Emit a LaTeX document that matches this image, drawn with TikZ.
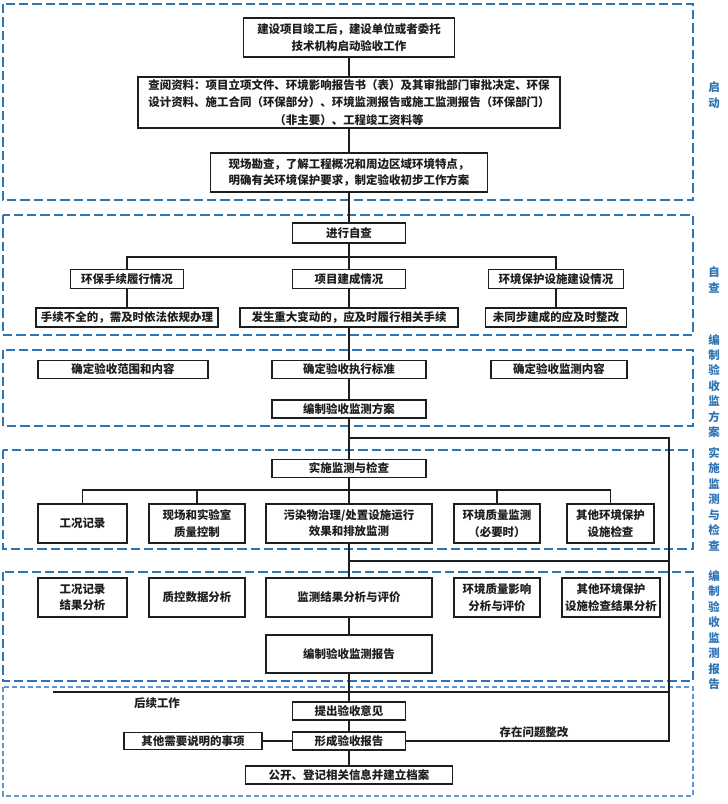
\documentclass[tikz,border=0pt]{standalone}
\usepackage{fontspec}
\setmainfont{Noto Sans CJK SC}
\usepackage{tikz}
\usetikzlibrary{calc}
\definecolor{stageBlue}{RGB}{46,117,182}
\definecolor{stageBlueLight}{RGB}{96,150,205}
\definecolor{inkBlack}{RGB}{30,30,30}
\tikzset{
  flow box/.style={draw=inkBlack,line width=0.9pt,fill=white,align=center,text=inkBlack,inner sep=0pt,
    font=\fontsize{8.6}{12.2}\selectfont\bfseries},
  box size/.style n args={2}{minimum width=#1*0.75pt,minimum height=#2*0.75pt},
  flow line/.style={draw=inkBlack,line width=0.9pt},
  stage frame/.style={draw=stageBlue,line width=1.1pt,dash pattern=on 7pt off 3pt},
  stage frame light/.style={draw=stageBlueLight,line width=0.9pt,dash pattern=on 4pt off 2pt},
  stage label/.style={text=stageBlue,align=center,inner sep=0pt,font=\fontsize{8.6}{11.6}\selectfont\bfseries},
  side text/.style={text=inkBlack,inner sep=0pt,font=\fontsize{8.6}{12}\selectfont\bfseries}
}
\begin{document}
\begin{tikzpicture}[x=0.75pt,y=-0.75pt]
  \useasboundingbox[fill=white] (0,0) rectangle (728,804);
  % stage frames
  \draw[stage frame] (3,4) rectangle (693,200);
  \draw[stage frame] (3,215) rectangle (693,335);
  \draw[stage frame] (3,350) rectangle (693,426);
  \draw[stage frame] (3,450) rectangle (693,549);
  \draw[stage frame] (3,572) rectangle (693,681);
  \draw[stage frame light] (3,687) rectangle (693,796);
  \node[stage label] (lblstart) at (714,95) {启\\动};
  \node[stage label] (lblself) at (714,280) {自\\查};
  \node[stage label] (lblplan) at (714,386) {编\\制\\验\\收\\监\\方\\案};
  \node[stage label] (lblexec) at (714,499) {实\\施\\监\\测\\与\\检\\查};
  \node[stage label] (lblreport) at (714,630) {编\\制\\验\\收\\监\\测\\报\\告};

  % start
  \node[flow box,box size={211}{39}] (start) at (349,37.5) {建设项目竣工后，建设单位或者委托\\技术机构启动验收工作};
  \node[flow box,box size={422}{51},font=\fontsize{8.6}{13}\selectfont\bfseries] (docs) at (349,102.5) {查阅资料：项目立项文件、环境影响报告书（表）及其审批部门审批决定、环保\\设计资料、施工合同（环保部分）、环境监测报告或施工监测报告（环保部门）\\（非主要）、工程竣工资料等};
  \node[flow box,box size={277}{39}] (survey) at (349,172.5) {现场勘查，了解工程概况和周边区域环境特点，\\明确有关环境保护要求，制定验收初步工作方案};

  % self check
  \node[flow box,box size={113}{20}] (selfchk) at (349,233) {进行自查};
  \node[flow box,box size={113}{19}] (proc) at (127,279) {环保手续履行情况};
  \node[flow box,box size={113}{19}] (build) at (349,279) {项目建成情况};
  \node[flow box,box size={135}{19}] (facil) at (556,279) {环境保护设施建设情况};
  \node[flow box,box size={182}{19}] (procfix) at (127,317.5) {手续不全的，需及时依法依规办理};
  \node[flow box,box size={218}{19}] (buildfix) at (349,317.5) {发生重大变动的，应及时履行相关手续};
  \node[flow box,box size={141}{19}] (facilfix) at (556,317.5) {未同步建成的应及时整改};

  % monitoring plan
  \node[flow box,box size={170}{18}] (scope) at (123,369.5) {确定验收范围和内容};
  \node[flow box,box size={154}{18}] (std) at (349,369.5) {确定验收执行标准};
  \node[flow box,box size={136}{18}] (content) at (559,369.5) {确定验收监测内容};
  \node[flow box,box size={154}{18}] (plan) at (349,409) {编制验收监测方案};

  % monitoring and inspection
  \node[flow box,box size={154}{18}] (exec) at (349,468.5) {实施监测与检查};
  \node[flow box,box size={89}{39}] (rec) at (82.5,523.5) {工况记录};
  \node[flow box,box size={96}{39}] (qc) at (197,523.5) {现场和实验室\\质量控制};
  \node[flow box,box size={166}{39}] (pollut) at (349,523.5) {污染物治理/处置设施运行\\效果和排放监测};
  \node[flow box,box size={86}{39}] (envq) at (497,523.5) {环境质量监测\\（必要时）};
  \node[flow box,box size={87}{39}] (other) at (610.5,523.5) {其他环境保护\\设施检查};

  % monitoring report
  \node[flow box,box size={89}{39}] (recana) at (82.5,597.5) {工况记录\\结果分析};
  \node[flow box,box size={96}{39}] (qcana) at (197,597.5) {质控数据分析};
  \node[flow box,box size={166}{39}] (resana) at (349,597.5) {监测结果分析与评价};
  \node[flow box,box size={86}{39}] (envana) at (497,597.5) {环境质量影响\\分析与评价};
  \node[flow box,box size={98}{39}] (otherana) at (611,597.5) {其他环境保护\\设施检查结果分析};
  \node[flow box,box size={166}{38}] (report) at (349,654) {编制验收监测报告};

  % follow-up
  \node[flow box,box size={113}{18}] (opinion) at (349,711) {提出验收意见};
  \node[flow box,box size={113}{18}] (final) at (349,741) {形成验收报告};
  \node[flow box,box size={138}{17}] (extra) at (193,741) {其他需要说明的事项};
  \node[flow box,box size={207}{18}] (archive) at (349,775) {公开、登记相关信息并建立档案};
  \node[side text] (followtxt) at (157,703) {后续工作};
  \node[side text] (fixtxt) at (534,732) {存在问题整改};

  \coordinate (selfbr) at (349,257);
  \coordinate (execbr) at (349,490);
  \coordinate (loopa) at (669,438);
  \coordinate (loopb) at (669,561);
  \coordinate (loopc) at (669,692);
  \coordinate (followend) at (53,692);

  \draw[flow line] (start) -- (docs);
  \draw[flow line] (docs) -- (survey);
  \draw[flow line] (survey) -- (selfchk);
  \draw[flow line] (selfchk) -- (build);
  \draw[flow line] (proc.north) |- (selfbr) -| (facil.north);
  \draw[flow line] (proc) -- (procfix);
  \draw[flow line] (build) -- (buildfix);
  \draw[flow line] (facil) -- (facilfix);
  \draw[flow line] (buildfix) -- (std);
  \draw[flow line] (std) -- (plan);
  \draw[flow line] (plan) -- (exec);
  \draw[flow line] (exec) -- (pollut);
  \draw[flow line] (rec.north) |- (execbr) -| (other.north);
  \draw[flow line] (qc.north) -- (qc.north |- execbr);
  \draw[flow line] (envq.north) -- (envq.north |- execbr);
  \draw[flow line] (pollut) -- (resana);
  \draw[flow line] (resana) -- (report);
  \draw[flow line] (report) -- (opinion);
  \draw[flow line] (opinion) -- (final);
  \draw[flow line] (final) -- (archive);
  \draw[flow line] (extra) -- (final);
  \draw[flow line] (final.east) -- (final.east -| loopa) -- (loopa) -- (loopa -| plan.south);
  \draw[flow line] (loopb) -- (loopb -| pollut.south);
  \draw[flow line] (followend) -- (loopc);
\end{tikzpicture}
\end{document}
